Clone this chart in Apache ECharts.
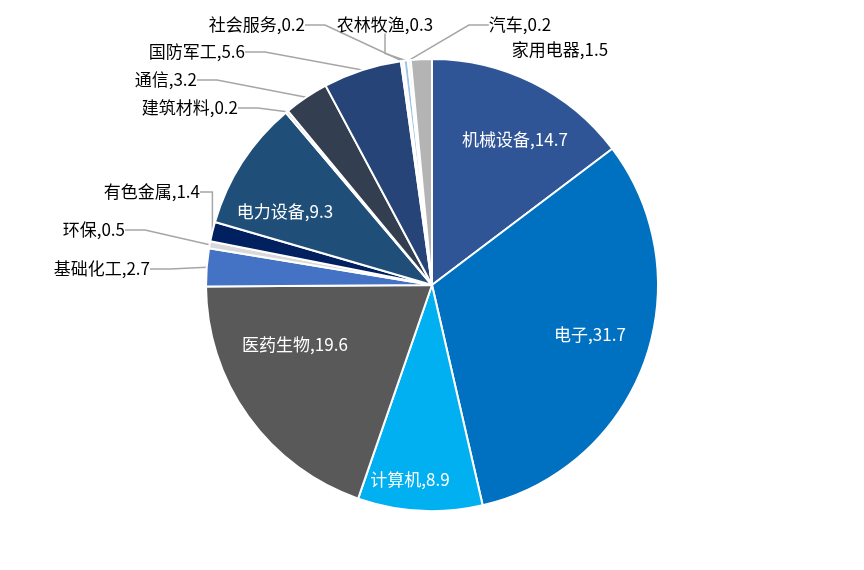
<!DOCTYPE html>
<html><head><meta charset="utf-8">
<script src="https://cdn.jsdelivr.net/npm/echarts@6/dist/echarts.min.js"></script>
<style>html,body{margin:0;padding:0;background:#fff}#c{width:864px;height:570px}</style>
</head><body><div id="c"></div>
<script>
const categories = ['机械设备','电子','计算机','医药生物','基础化工','环保','有色金属','电力设备','建筑材料','通信','国防军工','社会服务','农林牧渔','汽车','家用电器'];
const values = [14.7,31.7,8.9,19.6,2.7,0.5,1.4,9.3,0.2,3.2,5.6,0.2,0.3,0.2,1.5];
const colors = ['#2F5597','#0070C0','#00B0F0','#595959','#4472C4','#D9D9D9','#002060','#1F4E79','#D0D0D0','#333F50','#264478','#EEF3FA','#9DC3E6','#F2F2F2','#B4B4B4'];
const inside = [true,true,true,true,false,false,false,true,false,false,false,false,false,false,false];
// label anchor positions (layout only): [x, y, align]
const labelPos = [
  [515,140,'center'],[590,335,'center'],[410,480,'center'],[295,345,'center'],
  [150,269,'right'],[125,230,'right'],[200,192,'right'],[285,212,'center'],
  [238,108,'right'],[197,80,'right'],[245,52,'right'],[305,25,'right'],
  [385,25,'center'],[520,25,'center'],[560,50,'center']
];
const chart = echarts.init(document.getElementById('c'));
const data = categories.map((n,i)=>({
  name:n, value:values[i],
  itemStyle:{color:colors[i]},
  label:{color: inside[i] ? '#fff' : '#000', position: inside[i] ? 'inside' : 'outside'},
  labelLine:{show: !inside[i] && i !== 14}
}));
chart.setOption({
  animation:false,
  series:[{
    type:'pie',
    center:[432,285],
    radius:[0,226],
    startAngle:90,
    clockwise:true,
    avoidLabelOverlap:false,
    itemStyle:{borderColor:'#fff',borderWidth:2},
    label:{formatter:'{b},{c}',fontSize:17,fontFamily:'"Noto Sans CJK SC", sans-serif'},
    labelLine:{lineStyle:{color:'#A6A6A6',width:1.5},length:20,length2:20},
    labelLayout:function(p){
      const q = labelPos[p.dataIndex];
      return {x:q[0], y:q[1], align:q[2], verticalAlign:'middle'};
    },
    data:data
  }]
});
</script></body></html>
